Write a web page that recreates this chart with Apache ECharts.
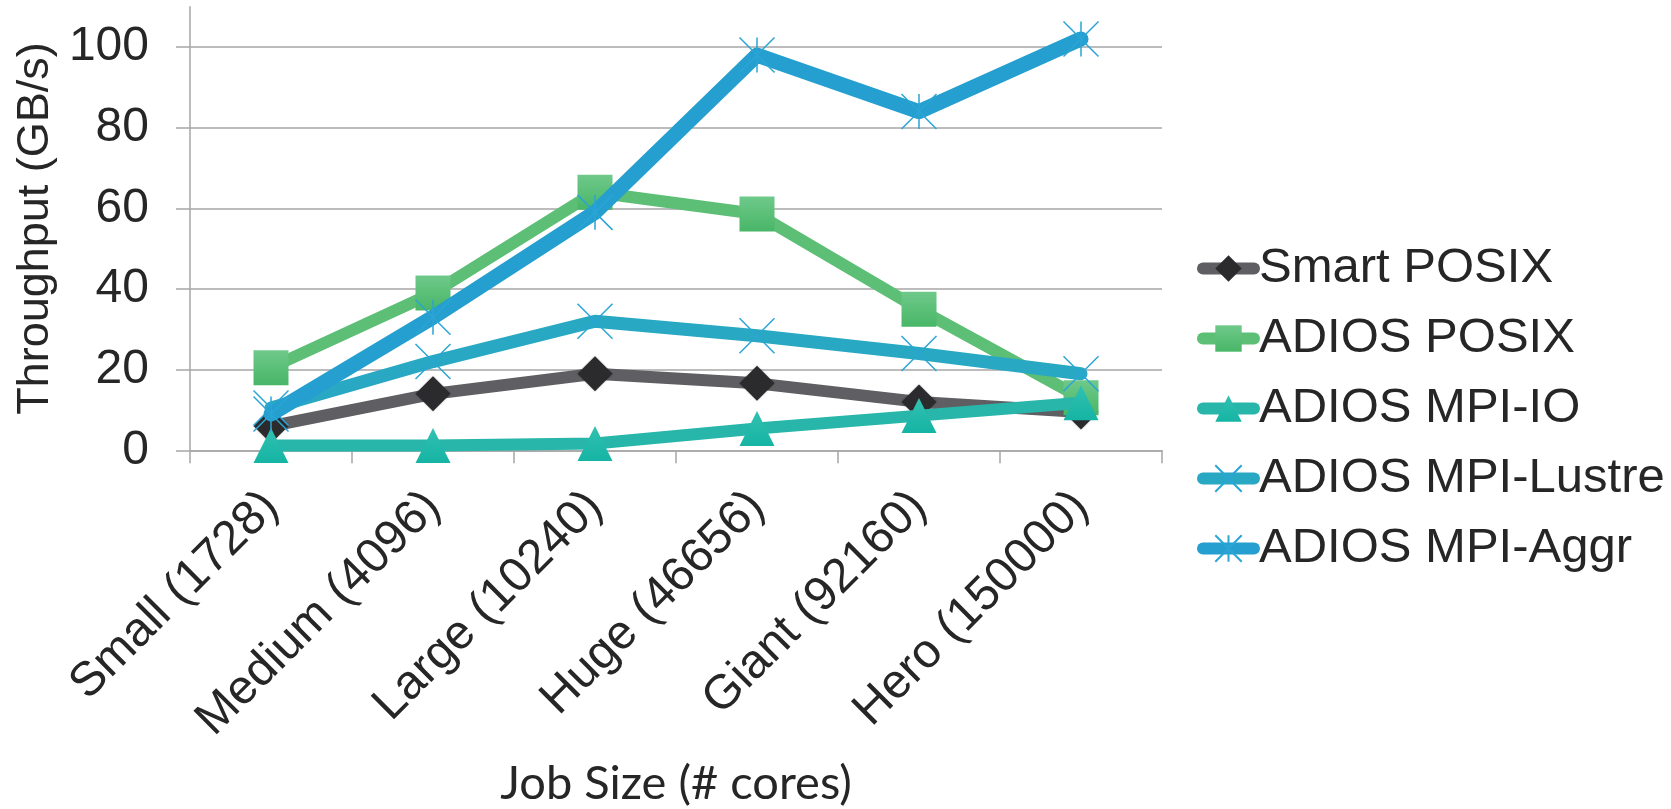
<!DOCTYPE html>
<html>
<head>
<meta charset="utf-8">
<title>Throughput by job size</title>
<script src="https://cdn.jsdelivr.net/npm/echarts@6/dist/echarts.min.js"></script>
<style>
  html, body { margin: 0; padding: 0; background: #ffffff; }
  #chart { width: 1671px; height: 809px; }
</style>
</head>
<body>
<div id="chart"></div>
<script>
// Job sizes (x categories)
const jobSizes = ['Small (1728)', 'Medium (4096)', 'Large (10240)', 'Huge (46656)', 'Giant (92160)', 'Hero (150000)'];

// Throughput in GB/s per method
const smartPosix   = [6, 14, 19, 16.6, 12, 9.5];
const adiosPosix   = [20.5, 39, 64, 58.6, 35, 13];
const adiosMpiIo   = [1.2, 1.2, 1.7, 5.4, 8.6, 11.8];
const adiosLustre  = [10.5, 22, 32, 28.4, 24, 19];
const adiosAggr    = [9, 33, 59, 98, 84, 102];

// y axis tick labels
const yTicks = [0, 20, 40, 60, 80, 100];

const seriesNames = ['Smart POSIX', 'ADIOS POSIX', 'ADIOS MPI-IO', 'ADIOS MPI-Lustre', 'ADIOS MPI-Aggr'];

const FONT = '"Liberation Sans", Arial, sans-serif';
const TEXT = '#262626';
const GRID = '#a6a6a6';

const crossPath = 'path://M0,0L10,10M10,0L0,10';
const starPath = 'path://M0,0L10,10M10,0L0,10M5,0L5,10';

function grad(top, bottom) {
  return new echarts.graphic.LinearGradient(0, 0, 0, 1, [
    { offset: 0, color: top },
    { offset: 1, color: bottom }
  ]);
}

const chart = echarts.init(document.getElementById('chart'), null, { renderer: 'canvas' });

chart.setOption({
  animation: false,
  backgroundColor: '#ffffff',
  grid: { left: 190, right: 509, top: 6.7, bottom: 358.7, containLabel: false, outerBoundsMode: 'none' },
  legend: {
    orient: 'vertical',
    left: 1197,
    top: 244,
    padding: 0,
    itemWidth: 51,
    itemHeight: 33,
    itemGap: 21,
    textStyle: { fontFamily: FONT, fontSize: 49, color: TEXT, lineHeight: 48 },
    lineStyle: { width: 12, cap: 'round' },
    data: seriesNames
  },
  xAxis: {
    type: 'category',
    data: jobSizes,
    boundaryGap: true,
    name: 'Job Size (# cores)',
    nameLocation: 'middle',
    nameGap: 310,
    nameTextStyle: { fontFamily: 'Lato, "Open Sans", sans-serif', fontSize: 47, color: TEXT },
    axisLine: { show: true, lineStyle: { color: GRID, width: 1.5 } },
    axisTick: { show: true, alignWithLabel: false, length: 13, lineStyle: { color: GRID, width: 1.5 } },
    axisLabel: {
      rotate: 45,
      interval: 0,
      margin: 49,
      fontFamily: FONT,
      fontSize: 48,
      color: TEXT
    },
    splitLine: { show: false }
  },
  yAxis: {
    type: 'value',
    min: 0,
    max: 110,
    interval: 20,
    name: 'Throughput (GB/s)',
    nameLocation: 'middle',
    nameGap: 130,
    nameTextStyle: { fontFamily: FONT, fontSize: 45, color: TEXT },
    axisLine: { show: true, lineStyle: { color: GRID, width: 1.5 } },
    axisTick: { show: true, length: 14, customValues: yTicks, lineStyle: { color: GRID, width: 1.5 } },
    axisLabel: { customValues: yTicks, margin: 41, fontFamily: FONT, fontSize: 48, color: TEXT },
    splitLine: {
      show: true,
      lineStyle: { color: [GRID, GRID, GRID, GRID, GRID, GRID, 'rgba(0,0,0,0)'], width: 1.5 }
    }
  },
  series: [
    {
      name: seriesNames[0],
      type: 'line',
      z: 2,
      data: smartPosix,
      symbol: 'diamond',
      symbolSize: 35,
      lineStyle: { color: '#5f5f63', width: 12, cap: 'round', join: 'round' },
      itemStyle: { color: '#2b2b2d', shadowColor: 'rgba(0,0,0,0.3)', shadowBlur: 2 }
    },
    {
      name: seriesNames[1],
      type: 'line',
      z: 3,
      data: adiosPosix,
      symbol: 'rect',
      symbolSize: 35,
      lineStyle: { color: '#5cbf75', width: 12, cap: 'round', join: 'round' },
      itemStyle: { color: grad('#6fc98a', '#48b667') }
    },
    {
      name: seriesNames[2],
      type: 'line',
      z: 4,
      data: adiosMpiIo,
      symbol: 'triangle',
      symbolSize: 35,
      lineStyle: { color: '#27b6a9', width: 12, cap: 'round', join: 'round' },
      itemStyle: { color: grad('#33c0b1', '#15b4a4') }
    },
    {
      name: seriesNames[3],
      type: 'line',
      z: 5,
      data: adiosLustre,
      symbol: crossPath,
      symbolSize: 35,
      lineStyle: { color: '#28a8c2', width: 13, cap: 'round', join: 'round' },
      itemStyle: { color: 'rgba(0,0,0,0)', borderColor: '#2aa5d6', borderWidth: 1.5 }
    },
    {
      name: seriesNames[4],
      type: 'line',
      z: 6,
      data: adiosAggr,
      symbol: starPath,
      symbolSize: 35,
      lineStyle: { color: '#249fd0', width: 15, cap: 'round', join: 'round' },
      itemStyle: { color: 'rgba(0,0,0,0)', borderColor: '#2aa5d6', borderWidth: 1.5 }
    }
  ]
});
</script>
</body>
</html>
